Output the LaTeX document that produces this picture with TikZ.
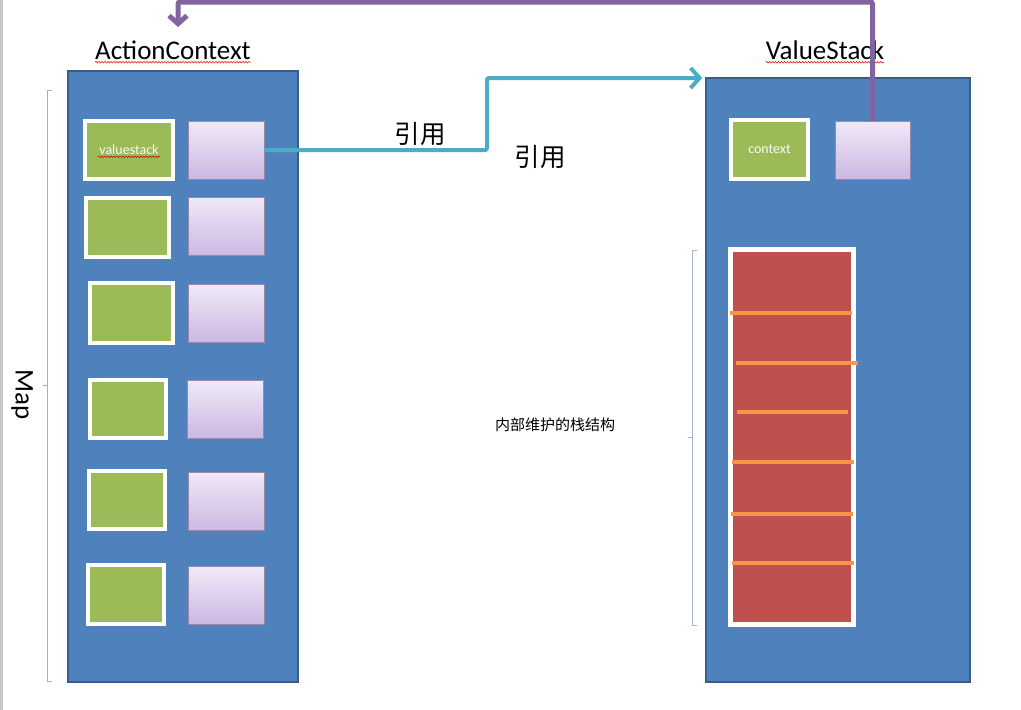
\documentclass[tikz,border=0pt]{standalone}
\usepackage{fontspec}
\setmainfont{Carlito}
\newfontfamily\cjk{Noto Sans CJK SC}
\usetikzlibrary{arrows.meta,decorations.pathmorphing}

\definecolor{boxblue}{HTML}{4F81BD}
\definecolor{boxedge}{HTML}{385D8A}
\definecolor{keygreen}{HTML}{9BBB59}
\definecolor{stackred}{HTML}{C0504D}
\definecolor{barorange}{HTML}{F79646}
\definecolor{reflink}{HTML}{4BACC6}
\definecolor{backlink}{HTML}{8064A2}
\definecolor{lilactop}{HTML}{F0E9F8}
\definecolor{lilacbot}{HTML}{CBB7E2}
\definecolor{braceline}{HTML}{9DB3CF}

\begin{document}
\begin{tikzpicture}[x=1pt,y=-1pt,
  container/.style={draw=boxedge,fill=boxblue,line width=1.5pt,inner sep=0pt},
  keybox/.style={draw=white,fill=keygreen,line width=4pt,inner sep=0pt,
    font=\fontsize{14}{15}\selectfont,text=white!92!keygreen},
  valbox/.style={draw=lilacbot!75!black,line width=0.4pt,top color=lilactop,
    bottom color=lilacbot,minimum width=76pt,minimum height=58pt,inner sep=0pt},
  title/.style={font=\fontsize{27}{31}\selectfont,inner sep=0pt},
  cjklabel/.style={font=\cjk\fontsize{25.5}{29}\selectfont},
  link/.style={line width=4pt,rounded corners=2pt},
  squiggle/.style={red!85!black,line width=0.5pt,decorate,
    decoration={snake,amplitude=0.8pt,segment length=3pt}}]
  \useasboundingbox (0,0) rectangle (1021,710);
  \fill[gray!45] (0,0) rectangle (3,710);

  % the two containers
  \node[container,minimum width=230pt,minimum height=611pt] (acbox) at (183,376.5) {};
  \node[container,minimum width=264pt,minimum height=604pt] (vsbox) at (838,380) {};
  \node[title] (actitle) at (173,50) {ActionContext};
  \node[title] (vstitle) at (825,50) {ValueStack};
  \draw[squiggle] ([yshift=-3pt]actitle.base west) -- ([yshift=-3pt]actitle.base east);
  \draw[squiggle] ([yshift=-3pt]vstitle.base west) -- ([yshift=-3pt]vstitle.base east);

  % map entries
  \node[keybox,minimum width=88pt,minimum height=58pt] (ac1k) at (129,150) {valuestack};
  \node[keybox,minimum width=83pt,minimum height=59pt] (ac2k) at (127.5,227.5) {};
  \node[keybox,minimum width=83pt,minimum height=60pt] (ac3k) at (131.5,313) {};
  \node[keybox,minimum width=76pt,minimum height=58pt] (ac4k) at (128,409) {};
  \node[keybox,minimum width=76pt,minimum height=58pt] (ac5k) at (127,500) {};
  \node[keybox,minimum width=76pt,minimum height=59pt] (ac6k) at (126,594.5) {};
  \draw[squiggle] ([yshift=-2pt]ac1k.base west) ++(15pt,0) -- ([yshift=-2pt,xshift=-15pt]ac1k.base east);
  \node[valbox] (ac1v) at (226,150) {};
  \node[valbox] (ac2v) at (226.5,226.5) {};
  \node[valbox] (ac3v) at (226.5,313.5) {};
  \node[valbox] (ac4v) at (225.5,409.5) {};
  \node[valbox] (ac5v) at (226.5,501.5) {};
  \node[valbox] (ac6v) at (226,595) {};

  % value stack
  \node[keybox,minimum width=77pt,minimum height=59pt] (vsctx) at (769.5,149.5) {context};
  \node[valbox,minimum width=75pt] (vsval) at (872.5,150) {};
  \node[draw=white,fill=stackred,line width=5pt,minimum width=123pt,minimum height=375pt] (stack) at (792,437) {};
  \draw[barorange,line width=4pt] (730,313) -- (852,313);
  \draw[barorange,line width=4pt] (736,363) -- (858,363);
  \draw[barorange,line width=4pt] (737,412) -- (848,412);
  \draw[barorange,line width=4pt] (732,462) -- (854,462);
  \draw[barorange,line width=4pt] (731,514) -- (853,514);
  \draw[barorange,line width=4pt] (732,563) -- (854,563);

  % brackets
  \draw[braceline] (52,90) -- (47,90) -- (47,681) -- (52,681);
  \draw[braceline] (47,385) -- (43,385);
  \node[title,rotate=-90] (maplabel) at (22,395) {Map};
  \draw[braceline] (697,250) -- (692,250) -- (692,625) -- (697,625);
  \draw[braceline] (692,437) -- (688,437);
  \node[font=\cjk\fontsize{15}{17}\selectfont] (stacknote) at (555,425) {内部维护的栈结构};

  % references
  \coordinate (acin) at (178,27);
  \draw[link,reflink,-{Straight Barb[length=9pt,width=20pt]}] (ac1v.east) -| (487,78) -- ([xshift=-3pt]vsbox.west |- 487,78);
  \draw[link,backlink,line width=5pt,-{Straight Barb[length=8pt,width=18pt]}] (vsval.north) -- (872.5,2) -| (acin);
  \node[cjklabel] (ref1) at (420,134) {引用};
  \node[cjklabel] (ref2) at (540,157) {引用};
\end{tikzpicture}
\end{document}
